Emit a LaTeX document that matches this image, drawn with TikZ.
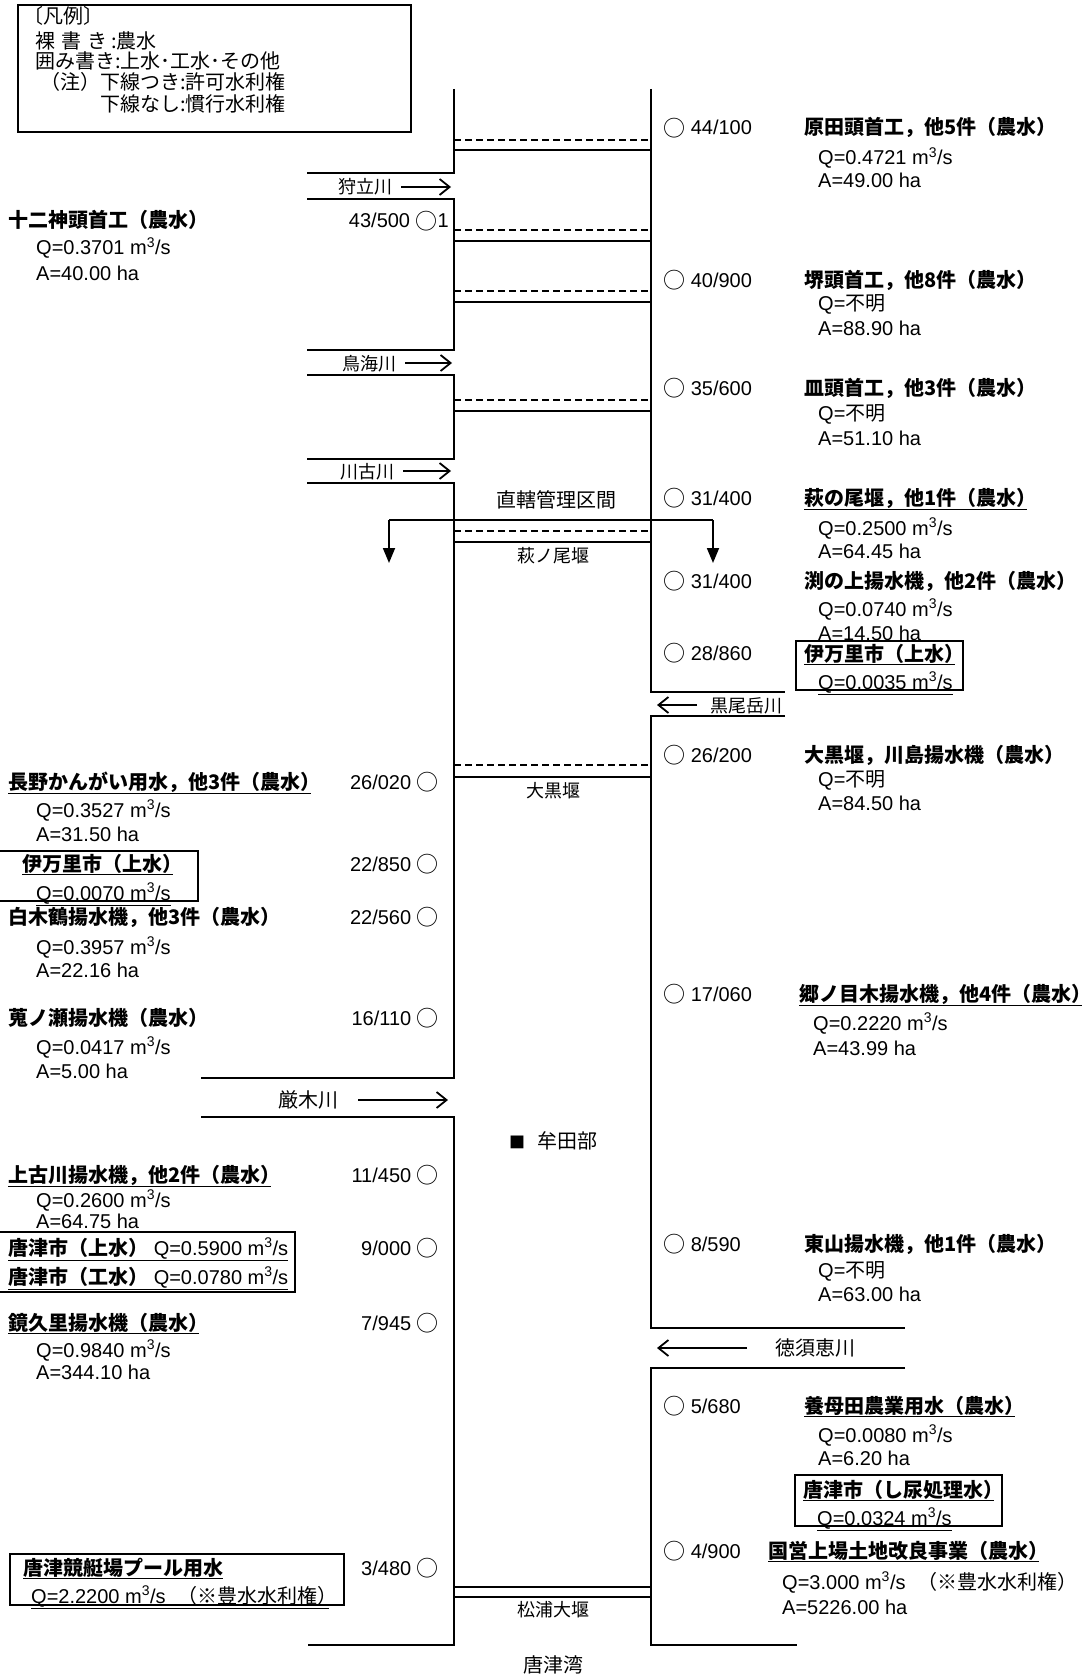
\documentclass[tikz,border=0pt]{standalone}
\usepackage{fontspec}
\setmainfont{Liberation Sans}
\newfontfamily\jp{Noto Sans CJK JP}
\usetikzlibrary{arrows.meta}
\tikzset{
  bank/.style     = {draw=black, line width=2pt},
  weir/.style     = {draw=black, line width=1.8pt},
  weirdash/.style = {draw=black, line width=1.6pt, dash pattern=on 6.5pt off 4.5pt},
  flow/.style     = {draw=black, line width=1.8pt, -{Straight Barb[length=10pt,width=16pt]}},
  divert/.style   = {draw=black, line width=1.8pt, -{Triangle[length=15pt,width=12pt]}},
  frame/.style    = {draw=black, line width=1.5pt},
  txt/.style      = {anchor=west, inner sep=0pt, text height=0.85em, text depth=0.15em},
  nm/.style       = {txt, font=\jp\bfseries},
  kml/.style      = {txt, anchor=east},
  lbl/.style      = {inner sep=0pt, text height=0.85em, text depth=0.15em, font=\jp},
  lbls/.style     = {lbl, font=\jp\fontsize{18}{20}\selectfont},
}
\newcommand{\qv}[1]{Q=#1 m\textsuperscript{3}/s}
\newcommand{\ci}{\raisebox{-1.5pt}{\jp\fontsize{22}{22}\selectfont ○}}
% underline that stops at the closing bracket glyph
\newcommand{\ulp}[1]{\underline{#1\kern-0.45em}}

\begin{document}
\fontsize{20}{24}\selectfont
\begin{tikzpicture}[x=1pt,y=-1pt]
  \useasboundingbox (0,0) rectangle (1090,1677);

  % legend
  \draw[frame] (18,5) rectangle (411,132);
  \node[txt, font=\jp] (lg1) at (23,17) {〔凡例〕};
  \node[txt, font=\jp] (lg2) at (35,42) {裸\hspace{0.3em}書\hspace{0.3em}き\hspace{0.2em}:農水};
  \node[txt, font=\jp] (lg3) at (35,62) {囲み書き:上水･工水･その他};
  \node[txt, font=\jp] (lg4) at (40,83) {（注）下線つき:許可水利権};
  \node[txt, font=\jp] (lg5) at (100,105) {下線なし:慣行水利権};

  % ---- river banks ----
  \draw[bank] (454,89) -- (454,173) -- (307,173);
  \draw[bank] (307,199) -- (454,199) -- (454,350) -- (307,350);
  \draw[bank] (307,375) -- (454,375) -- (454,459) -- (307,459);
  \draw[bank] (307,483) -- (454,483) -- (454,1078) -- (201,1078);
  \draw[bank] (201,1117) -- (454,1117) -- (454,1645) -- (308,1645);
  \draw[bank] (651,89) -- (651,692) -- (785,692);
  \draw[bank] (785,716) -- (651,716) -- (651,1328) -- (905,1328);
  \draw[bank] (905,1368) -- (651,1368) -- (651,1645) -- (797,1645);

  % ---- weirs ----
  \foreach \d/\s in {140/150, 230/241, 291/302, 400/411, 531/542, 765/777} {
    \draw[weirdash] (454,\d) -- (651,\d);
    \draw[weir] (454,\s) -- (651,\s);
  }
  \draw[weir] (454,1587) -- (651,1587);
  \draw[weir] (454,1597) -- (651,1597);
  \node[lbls] (w-hagi) at (553,555) {萩ノ尾堰};
  \node[lbls] (w-oguro) at (553,790) {大黒堰};
  \node[lbls] (w-matsu) at (553,1609) {松浦大堰};
  \node[lbl] (sect) at (556,500) {直轄管理区間};
  \node[lbl] (muta) at (553,1141) {{\fontsize{16}{16}\selectfont ■}\hspace{0.6em}牟田部};
  \node[lbl] (sea) at (553,1665) {唐津湾};

  % diversion at hagi-no-o weir
  \coordinate (dv-l) at (389,520);
  \coordinate (dv-r) at (713,520);
  \coordinate (dv-lo) at (389,563);
  \coordinate (dv-ro) at (713,563);
  \draw[line width=1.8pt] (dv-l) -- (dv-r);
  \draw[divert] (dv-l) -- (dv-lo);
  \draw[divert] (dv-r) -- (dv-ro);

  % ---- tributaries ----
  \foreach \n/\t/\x/\y/\e in {kari/狩立川/393/187/451, toka/鳥海川/397/363/452, kawa/川古川/395/471/451} {
    \node[lbls, anchor=east] (\n) at (\x,\y) {\t};
    \coordinate (\n-in) at (\e,\y);
    \draw[flow, shorten <=8pt] (\n) -- (\n-in);
  }
  \node[lbl, anchor=east] (kyu) at (339,1100) {厳木川};
  \coordinate (kyu-in) at (448,1100);
  \draw[flow, shorten <=19pt] (kyu) -- (kyu-in);
  \node[lbls, anchor=west] (kuro) at (710,705) {黒尾岳川};
  \coordinate (kuro-in) at (657,705);
  \draw[flow, shorten <=13pt] (kuro) -- (kuro-in);
  \node[lbl, anchor=west] (toku) at (775,1348) {徳須恵川};
  \coordinate (toku-in) at (657,1348);
  \draw[flow, shorten <=28pt] (toku) -- (toku-in);

  % ---- right bank: intakes ----
  \foreach \k/\y in {{44/100}/128, {40/900}/280, {35/600}/388, {31/400}/498, {31/400}/581, {28/860}/653,
                     {26/200}/755, {17/060}/994, {8/590}/1244, {5/680}/1406, {4/900}/1551} {
    \node[txt] (kr\y) at (663,\y) {\ci\ \k};
  }
  \foreach \y/\yq/\ya/\x/\nm/\q/\a in {%
    128/158/181/804/{原田頭首工，他5件（農水）}/{\qv{0.4721}}/{A=49.00 ha},
    280/304/328/804/{堺頭首工，他8件（農水）}/{Q={\jp 不明}}/{A=88.90 ha},
    388/413/438/804/{皿頭首工，他3件（農水）}/{Q={\jp 不明}}/{A=51.10 ha},
    498/528/551/804/{\ulp{萩の尾堰，他1件（農水）}}/{\qv{0.2500}}/{A=64.45 ha},
    581/609/633/804/{渕の上揚水機，他2件（農水）}/{\qv{0.0740}}/{A=14.50 ha},
    755/779/803/804/{大黒堰，川島揚水機（農水）}/{Q={\jp 不明}}/{A=84.50 ha},
    994/1023/1048/799/{\ulp{郷ノ目木揚水機，他4件（農水）}}/{\qv{0.2220}}/{A=43.99 ha},
    1244/1270/1294/804/{東山揚水機，他1件（農水）}/{Q={\jp 不明}}/{A=63.00 ha},
    1406/1435/1458/804/{\ulp{養母田農業用水（農水）}}/{\qv{0.0080}}/{A=6.20 ha},
    1551/1582/1607/768/{\ulp{国営上場土地改良事業（農水）}}/{\qv{3.000}\hspace{0.6em}{\jp（※豊水水利権）}}/{A=5226.00 ha}}
  {
    \node[nm] (nr\y) at (\x,\y) {\nm};
    \node[txt] (qr\y) at (\x+14,\yq) {\q};
    \node[txt] (ar\y) at (\x+14,\ya) {\a};
  }
  \draw[frame] (796,641) rectangle (963,690);
  \node[nm] (nr653) at (804,654) {\ulp{伊万里市（上水）}};
  \node[txt] (qr653) at (818,682) {\underline{\qv{0.0035}}};
  \draw[frame] (795,1475) rectangle (1002,1526);
  \node[nm] (nr1490) at (803,1490) {\ulp{唐津市（し尿処理水）}};
  \node[txt] (qr1490) at (817,1518) {\underline{\qv{0.0324}}};

  % ---- left bank: intakes ----
  \node[kml] (kl221) at (449,221) {43/500 \ci1};
  \foreach \k/\y in {{26/020}/782, {22/850}/864, {22/560}/917, {16/110}/1018, {11/450}/1175,
                     {9/000}/1248, {7/945}/1323, {3/480}/1568} {
    \node[kml] (kl\y) at (439,\y) {\k\ \ci};
  }
  \foreach \y/\yq/\ya/\nm/\q/\a in {%
    221/248/274/{十二神頭首工（農水）}/{\qv{0.3701}}/{A=40.00 ha},
    782/810/834/{\ulp{長野かんがい用水，他3件（農水）}}/{\qv{0.3527}}/{A=31.50 ha},
    917/947/970/{白木鶴揚水機，他3件（農水）}/{\qv{0.3957}}/{A=22.16 ha},
    1018/1047/1071/{蒐ノ瀬揚水機（農水）}/{\qv{0.0417}}/{A=5.00 ha},
    1175/1200/1221/{\ulp{上古川揚水機，他2件（農水）}}/{\qv{0.2600}}/{A=64.75 ha},
    1323/1350/1372/{\ulp{鏡久里揚水機（農水）}}/{\qv{0.9840}}/{A=344.10 ha}}
  {
    \node[nm] (nl\y) at (8,\y) {\nm};
    \node[txt] (ql\y) at (36,\yq) {\q};
    \node[txt] (al\y) at (36,\ya) {\a};
  }
  \draw[frame] (-2,851) rectangle (198,901);
  \node[nm] (nl864) at (22,864) {\ulp{伊万里市（上水）}};
  \node[txt] (ql864) at (36,893) {\underline{\qv{0.0070}}};
  \draw[frame] (-2,1232) rectangle (295,1292);
  \node[txt] (nl1248) at (8,1248) {\underline{{\jp\bfseries 唐津市（上水）}\ \qv{0.5900}}};
  \node[txt] (nl1277) at (8,1277) {\underline{{\jp\bfseries 唐津市（工水）}\ \qv{0.0780}}};
  \draw[frame] (10,1554) rectangle (344,1605);
  \node[nm] (nl1568) at (23,1568) {\underline{唐津競艇場プール用水}};
  \node[txt] (ql1568) at (31,1596) {\ulp{\qv{2.2200}\hspace{0.6em}{\jp（※豊水水利権）}}};
\end{tikzpicture}
\end{document}
